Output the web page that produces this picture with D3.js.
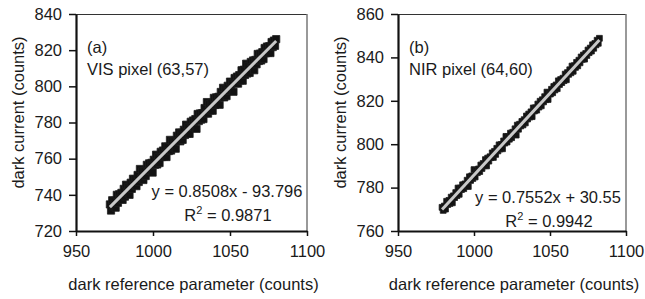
<!DOCTYPE html>
<html>
<head>
<meta charset="utf-8">
<script src="https://cdn.jsdelivr.net/npm/d3@7"></script>
<style>
  body { margin: 0; background: #fff; }
  svg { display: block; font-family: "Liberation Sans", Arial, sans-serif; }
  text { fill: #1a1a1a; }
</style>
</head>
<body>
<svg id="chart" width="645" height="299"></svg>
<script>
// axis ticks
const xTicks = [950, 1000, 1050, 1100]
const visYTicks = [720, 740, 760, 780, 800, 820, 840]
const nirYTicks = [760, 780, 800, 820, 840, 860]

// trend lines (slope, intercept) as printed on the chart
const visFit = [0.8508, -93.796]
const nirFit = [0.7552, 30.55]

// VIS pixel (63,57): dark reference parameter vs dark current
const visPoints = [
  [972, 734.7], [973.5, 737.0], [975, 736.7], [976.5, 740.0], [978, 740.3], [979.5, 741.1],
  [981, 743.3], [982.5, 745.6], [984, 744.4], [985.5, 746.7], [987, 748.9], [988.5, 748.7],
  [990, 751.0], [991.5, 754.3], [993, 753.0], [994.5, 753.3], [996, 756.6], [997.5, 757.4],
  [999, 757.7], [1000.5, 759.4], [1002, 762.2], [1003.5, 761.0], [1005, 763.8], [1006.5, 764.5],
  [1008, 766.8], [1009.5, 766.6], [1011, 770.4], [1012.5, 769.6], [1014, 769.9], [1015.5, 772.7],
  [1017, 774.5], [1018.5, 774.3], [1020, 776.0], [1021.5, 778.8], [1023, 777.6], [1024.5, 780.4],
  [1026, 781.1], [1027.5, 781.9], [1029, 784.7], [1030.5, 785.0], [1032, 785.2], [1033.5, 788.0],
  [1035, 791.3], [1036.5, 790.1], [1038, 790.8], [1039.5, 793.6], [1041, 793.9], [1042.5, 794.2],
  [1044, 796.9], [1045.5, 799.2], [1047, 798.5], [1048.5, 800.3], [1050, 802.6], [1051.5, 801.8],
  [1053, 804.6], [1054.5, 805.4], [1056, 806.2], [1057.5, 808.9], [1059, 809.2], [1060.5, 812.5],
  [1062, 811.3], [1063.5, 813.5], [1065, 814.3], [1066.5, 814.6], [1068, 817.9], [1069.5, 818.1],
  [1071, 818.9], [1072.5, 821.2], [1074, 822.0], [1075.5, 822.2], [1077, 824.5], [1078.5, 825.3],
  [1080, 826.1],
  [972.75, 731.3], [974.25, 733.6], [975.75, 732.9], [977.25, 735.6], [978.75, 737.9], [980.25, 737.2],
  [981.75, 739.0], [983.25, 741.2], [984.75, 740.0], [986.25, 743.3], [987.75, 745.6], [989.25, 744.8],
  [990.75, 747.1], [992.25, 748.9], [993.75, 748.2], [995.25, 750.4], [996.75, 753.2], [998.25, 753.5],
  [999.75, 752.3], [1001.25, 756.6], [1002.75, 756.8], [1004.25, 757.6], [1005.75, 760.9], [1007.25, 761.2],
  [1008.75, 760.9], [1010.25, 764.2], [1011.75, 764.5], [1013.25, 766.3], [1014.75, 765.5], [1016.25, 769.8],
  [1017.75, 769.6], [1019.25, 770.4], [1020.75, 773.1], [1022.25, 773.9], [1023.75, 773.7], [1025.25, 777.5],
  [1026.75, 777.3], [1028.25, 776.5], [1029.75, 780.8], [1031.25, 781.6], [1032.75, 781.9], [1034.25, 785.1],
  [1035.75, 784.9], [1037.25, 786.7], [1038.75, 786.5], [1040.25, 789.7], [1041.75, 790.5], [1043.25, 789.8],
  [1044.75, 794.1], [1046.25, 793.9], [1047.75, 794.6], [1049.25, 797.4], [1050.75, 798.2], [1052.25, 797.0],
  [1053.75, 801.7], [1055.25, 801.5], [1056.75, 803.3], [1058.25, 803.1], [1059.75, 806.3], [1061.25, 807.1],
  [1062.75, 807.4], [1064.25, 810.7], [1065.75, 808.9], [1067.25, 812.2], [1068.75, 814.0], [1070.25, 814.3],
  [1071.75, 815.1], [1073.25, 818.3], [1074.75, 818.6], [1076.25, 818.4], [1077.75, 821.7], [1079.25, 822.4]
]

// NIR pixel (64,60)
const nirPoints = [
  [979, 770.9], [980.5, 771.5], [982, 773.7], [983.5, 774.1], [985, 775.6], [986.5, 776.2],
  [988, 777.7], [989.5, 779.8], [991, 779.8], [992.5, 781.3], [994, 781.7], [995.5, 783.4],
  [997, 785.0], [998.5, 785.4], [1000, 788.3], [1001.5, 787.9], [1003, 788.6], [1004.5, 790.4],
  [1006, 791.1], [1007.5, 792.9], [1009, 793.6], [1010.5, 794.2], [1012, 796.0], [1013.5, 796.7],
  [1015, 798.1], [1016.5, 799.7], [1018, 799.9], [1019.5, 801.5], [1021, 803.6], [1022.5, 803.5],
  [1024, 805.1], [1025.5, 805.5], [1027, 807.1], [1028.5, 808.8], [1030, 809.2], [1031.5, 810.5],
  [1033, 811.3], [1034.5, 813.0], [1036, 813.9], [1037.5, 814.9], [1039, 816.7], [1040.5, 816.8],
  [1042, 818.5], [1043.5, 819.8], [1045, 820.5], [1046.5, 821.9], [1048, 824.0], [1049.5, 823.7],
  [1051, 825.3], [1052.5, 826.6], [1054, 827.3], [1055.5, 829.2], [1057, 829.8], [1058.5, 830.4],
  [1060, 832.3], [1061.5, 833.0], [1063, 834.3], [1064.5, 836.0], [1066, 836.2], [1067.5, 837.7],
  [1069, 838.7], [1070.5, 840.2], [1072, 841.1], [1073.5, 841.8], [1075, 843.4], [1076.5, 844.3],
  [1078, 845.8], [1079.5, 846.4], [1081, 847.9], [1082.5, 848.8],
  [979.75, 769.5], [981.25, 770.1], [982.75, 772.2], [984.25, 772.7], [985.75, 773.0], [987.25, 775.4],
  [988.75, 776.3], [990.25, 776.9], [991.75, 779.1], [993.25, 779.5], [994.75, 780.8], [996.25, 780.5],
  [997.75, 783.3], [999.25, 784.2], [1000.75, 784.9], [1002.25, 786.9], [1003.75, 787.4], [1005.25, 788.8],
  [1006.75, 790.1], [1008.25, 790.0], [1009.75, 792.2], [1011.25, 793.8], [1012.75, 793.9], [1014.25, 795.3],
  [1015.75, 796.9], [1017.25, 797.8], [1018.75, 797.9], [1020.25, 800.5], [1021.75, 801.0], [1023.25, 802.3],
  [1024.75, 803.0], [1026.25, 804.8], [1027.75, 804.2], [1029.25, 806.9], [1030.75, 808.4], [1032.25, 808.9],
  [1033.75, 809.8], [1035.25, 811.6], [1036.75, 812.5], [1038.25, 812.7], [1039.75, 815.3], [1041.25, 815.7],
  [1042.75, 817.1], [1044.25, 817.7], [1045.75, 819.5], [1047.25, 820.5], [1048.75, 820.6], [1050.25, 823.1],
  [1051.75, 823.7], [1053.25, 825.0], [1054.75, 825.6], [1056.25, 827.5], [1057.75, 828.4], [1059.25, 829.3],
  [1060.75, 829.7], [1062.25, 832.2], [1063.75, 832.9], [1065.25, 833.6], [1066.75, 835.4], [1068.25, 836.1],
  [1069.75, 837.5], [1071.25, 839.1], [1072.75, 839.2], [1074.25, 840.9], [1075.75, 842.2], [1077.25, 842.9],
  [1078.75, 844.2], [1080.25, 845.8], [1081.75, 846.5]
]

const svg = d3.select('#chart')
const fontSize = 16.5

function buildPanel(opts) {
  const { left, right, top, bottom, yDomain, yTicks, points, fit, markSize, tag, name, eqX, eqY, eqText, r2Text } = opts

  const x = d3.scaleLinear().domain([950, 1100]).range([left, right])
  const y = d3.scaleLinear().domain(yDomain).range([bottom, top])
  const g = svg.append('g')

  // frame: top and right edges
  g.append('line')
    .attr('x1', left).attr('x2', right).attr('y1', top + 0.5).attr('y2', top + 0.5)
    .attr('stroke', '#333').attr('stroke-width', 1)
  g.append('line')
    .attr('x1', right).attr('x2', right).attr('y1', top).attr('y2', bottom)
    .attr('stroke', '#777').attr('stroke-width', 1.5)

  // points
  const square = d3.symbol().type(d3.symbolSquare).size(markSize)
  g.append('g')
    .selectAll('path')
    .data(points)
    .enter()
    .append('path')
    .attr('d', square)
    .attr('transform', (d) => 'translate(' + x(d[0]) + ',' + y(d[1]) + ')')
    .attr('fill', '#121212')
    .attr('stroke', '#1e1e1e')
    .attr('stroke-width', 0.8)

  // trend line over the range of the data
  const ext = d3.extent(points, (d) => d[0])
  g.append('line')
    .attr('x1', x(ext[0])).attr('y1', y(fit[0] * ext[0] + fit[1]))
    .attr('x2', x(ext[1])).attr('y2', y(fit[0] * ext[1] + fit[1]))
    .attr('stroke', '#c8c8c8')
    .attr('stroke-width', 3)

  // axes
  const xAxis = g.append('g')
    .attr('transform', 'translate(0,' + bottom + ')')
    .call(d3.axisBottom(x).tickValues(xTicks).tickFormat(d3.format('d'))
      .tickSizeOuter(0).tickSizeInner(5).tickPadding(9))
  const yAxis = g.append('g')
    .attr('transform', 'translate(' + left + ',0)')
    .call(d3.axisLeft(y).tickValues(yTicks).tickFormat(d3.format('d'))
      .tickSizeOuter(0).tickSizeInner(7).tickPadding(7))

  for (const ax of [xAxis, yAxis]) {
    ax.select('.domain').attr('stroke', '#111').attr('stroke-width', 2.2)
    ax.selectAll('.tick line').attr('stroke', '#111').attr('stroke-width', 1.5)
    ax.selectAll('.tick text')
      .attr('fill', '#1a1a1a')
      .style('font-size', fontSize + 'px')
      .style('font-family', '"Liberation Sans", Arial, sans-serif')
  }

  // labels
  g.append('text')
    .attr('x', (left + right) / 2 + 2).attr('y', 290)
    .attr('text-anchor', 'middle')
    .style('font-size', fontSize + 'px')
    .text('dark reference parameter (counts)')
  g.append('text')
    .attr('transform', 'translate(' + (left - 52) + ',' + ((top + bottom) / 2 - 10) + ') rotate(-90)')
    .attr('text-anchor', 'middle')
    .style('font-size', fontSize + 'px')
    .text('dark current (counts)')

  g.append('text').attr('x', left + 11).attr('y', 53).style('font-size', fontSize + 'px').text(tag)
  g.append('text').attr('x', left + 11).attr('y', 75).style('font-size', fontSize + 'px').text(name)

  g.append('text')
    .attr('x', eqX).attr('y', eqY)
    .attr('text-anchor', 'middle')
    .style('font-size', fontSize + 'px')
    .text(eqText)
  const r2 = g.append('text')
    .attr('x', eqX + 1).attr('y', eqY + 24)
    .attr('text-anchor', 'middle')
    .style('font-size', fontSize + 'px')
  r2.append('tspan').text('R')
  r2.append('tspan').attr('dy', -7).style('font-size', '11px').text('2')
  r2.append('tspan').attr('dy', 7).text(' = ' + r2Text)
}

buildPanel({
  left: 76, right: 307, top: 14, bottom: 231,
  yDomain: [720, 840], yTicks: visYTicks,
  points: visPoints, fit: visFit, markSize: 52,
  tag: '(a)', name: 'VIS pixel (63,57)',
  eqX: 227, eqY: 197,
  eqText: 'y = 0.8508x - 93.796', r2Text: '0.9871'
})

buildPanel({
  left: 398, right: 626, top: 14, bottom: 231,
  yDomain: [760, 860], yTicks: nirYTicks,
  points: nirPoints, fit: nirFit, markSize: 34,
  tag: '(b)', name: 'NIR pixel (64,60)',
  eqX: 548, eqY: 203,
  eqText: 'y = 0.7552x + 30.55', r2Text: '0.9942'
})
</script>
</body>
</html>
